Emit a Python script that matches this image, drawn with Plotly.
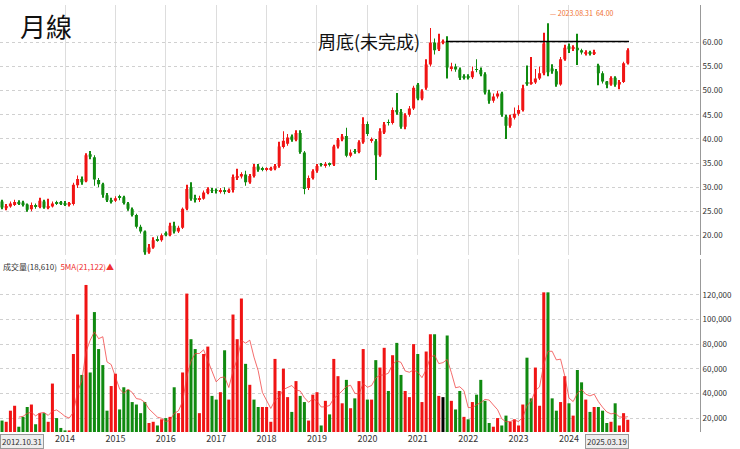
import plotly.graph_objects as go

opens = [27.0,25.6,26.0,26.5,26.9,26.8,26.4,25.4,26.2,25.9,27.0,25.7,26.0,26.9,26.8,26.7,26.3,26.5,30.4,31.7,31.2,36.8,36.2,31.5,30.6,28.3,27.3,27.2,28.0,27.9,
26.6,25.4,24.2,21.8,20.8,16.5,17.5,19.2,19.0,20.3,20.1,22.0,20.8,21.6,25.5,30.0,27.6,27.4,27.6,28.8,
29.4,29.3,29.1,29.3,29.1,29.4,31.9,32.2,32.6,31.0,32.3,34.3,33.8,33.6,33.7,33.8,34.4,38.3,39.0,40.5,
39.8,41.2,37.2,29.8,31.9,33.4,34.7,34.4,34.8,34.7,38.4,39.9,40.6,36.5,37.4,37.3,39.3,43.1,39.6,39.5,
36.6,41.3,43.4,43.3,46.0,45.6,42.5,45.0,46.3,51.2,48.4,50.6,55.4,60.0,58.6,60.0,60.2,54.6,55.0,54.4,
52.9,52.9,52.8,54.4,54.3,53.4,49.6,47.9,48.8,49.4,44.6,42.7,44.4,45.2,46.0,51.6,51.5,51.7,52.5,53.6,
60.2,54.6,54.0,51.3,56.5,59.2,58.7,58.9,58.4,57.7,57.9,57.7,55.2,53.6,51.9,51.3,52.7,51.3,51.8,55.7]
closes = [25.8,26.1,26.6,26.9,26.7,26.4,25.3,26.3,25.9,27.2,25.8,26.0,26.6,26.7,26.6,26.5,26.6,30.5,31.7,31.0,36.6,36.3,31.6,30.6,28.4,27.3,27.0,27.7,27.9,26.7,
25.5,24.2,21.8,20.8,16.5,17.5,19.0,19.0,20.0,20.2,22.0,20.8,21.6,25.5,29.6,27.6,27.4,27.7,28.9,29.6,
29.2,29.2,29.4,29.1,29.4,32.1,32.3,32.7,31.0,32.3,34.2,33.6,33.7,33.8,33.9,34.4,38.4,39.6,40.3,39.8,
41.2,37.3,29.6,31.9,33.3,34.4,34.6,34.8,34.7,38.4,39.8,40.5,36.5,37.2,37.3,39.3,43.1,41.0,39.8,36.6,
41.6,43.0,43.3,46.0,45.5,42.5,44.9,46.3,50.6,48.4,49.9,55.4,60.0,58.4,60.0,60.1,54.8,55.0,54.4,52.7,
52.8,52.7,54.0,54.3,53.4,49.6,47.9,48.8,49.4,45.0,42.7,44.4,45.2,46.0,50.5,51.5,51.7,52.5,53.6,59.8,
53.8,54.0,51.3,56.5,58.9,58.6,58.9,58.4,57.9,57.9,57.7,58.0,53.6,51.9,51.2,52.6,51.2,51.8,55.7,58.4]
highs = [27.4,26.5,27.0,27.4,27.3,27.2,26.6,26.8,26.6,27.8,27.4,27.6,27.0,27.2,27.1,27.1,26.9,30.9,32.4,32.2,37.0,37.5,36.6,31.9,30.9,28.8,27.8,28.1,28.4,28.2,
26.9,25.8,24.5,22.2,21.0,18.2,19.6,19.8,20.4,20.8,22.6,22.8,22.0,25.8,30.5,31.0,28.4,28.2,29.3,30.0,
29.8,29.7,29.8,30.0,29.7,32.6,33.8,33.1,33.4,32.7,34.8,34.8,34.2,34.1,34.2,34.8,39.4,41.6,41.0,40.9,
41.8,41.8,37.5,32.4,33.7,34.8,35.0,35.2,35.1,38.8,40.2,41.0,42.3,37.8,37.9,39.7,44.5,43.6,40.3,40.0,
42.2,43.5,44.0,46.5,49.5,46.2,45.3,46.8,51.0,51.6,50.3,56.5,63.0,60.8,61.8,60.6,61.3,55.8,55.6,54.8,
53.4,53.4,55.0,56.5,54.8,53.8,50.2,49.4,50.0,49.8,45.0,45.0,46.5,47.0,51.2,55.2,57.0,54.5,55.0,62.0,
64.0,55.5,54.5,57.0,59.5,59.8,59.4,61.8,58.7,58.4,58.3,58.5,55.6,54.0,52.0,53.0,53.0,52.2,56.0,58.8]
lows = [25.4,25.2,25.7,26.1,26.3,26.0,24.9,25.0,25.5,25.6,25.5,25.4,25.8,26.3,26.3,26.1,26.0,26.2,29.8,30.5,31.0,35.8,30.3,30.0,27.8,26.9,26.6,26.9,27.3,26.4,
25.1,23.9,21.4,20.4,15.85,16.2,17.2,18.7,18.7,19.8,19.8,20.4,20.5,21.3,25.2,27.2,26.8,26.9,27.4,28.5,
28.8,28.7,28.7,28.5,28.8,28.9,31.5,31.8,30.3,30.7,32.0,33.2,33.3,33.3,33.4,33.5,34.0,38.0,38.6,39.4,
39.5,36.9,28.5,29.4,31.6,33.0,34.3,34.0,34.3,34.4,38.0,39.5,36.2,36.2,36.9,37.0,39.0,40.6,39.2,31.5,
36.3,41.0,42.8,43.0,45.0,42.1,42.0,44.6,46.0,48.0,48.0,50.2,55.0,57.5,58.2,59.6,52.5,54.0,53.9,52.2,
52.3,52.3,52.4,53.8,53.0,49.2,47.3,47.5,48.4,44.6,40.0,42.3,44.0,44.8,45.7,51.0,51.2,51.4,52.2,53.2,
53.0,53.5,50.8,51.0,56.2,57.8,58.2,55.3,57.5,57.3,57.3,57.4,51.1,51.5,50.5,51.0,50.8,50.3,51.6,55.4]
volumes_k = [18,17,26,30,13,21,29,31,15,24,24,17,48,20,12,10,10,72,104,55,128,57,106,76,63,26,46,56,27,45,
43,33,31,24,33,16,17,14,19,20,21,45,24,57,121,84,76,24,72,78,38,35,41,75,35,104,84,117,64,47,
35,29,29,29,17,68,42,60,37,25,50,38,33,18,39,41,
14,34,23,68,54,32,51,28,36,50,76,35,35,67,61,77,42,71,81,55,42,37,80,72,33,74,88,88,38,37,
87,34,27,42,21,19,33,39,51,34,16,13,20,14,22,17,19,14,31,69,36,61,30,122,122,36,26,33,54,32,
22,59,49,35,25,29,29,26,16,17,32,14,24,18.61]
vol_dir = list("grrrgggrgr" "grrgggrrrg" "rgggggrrgg" "gggggrrgrg" "rgrrrggrrr" "ggrgrrrrgr" "ggrrrrrrrg" "rggrrr"
               "grgrrrgrgr" "rgrgrrgrgg" "rrrgrrrgrk" "grggrgrggg" "grrggrrrrg" "grrrgggrrg" "rggrgrgggr" "grrr")
years = ["2014","2015","2016","2017","2018","2019","2020","2021","2022","2023","2024"]
year_idx = [15,27,39,51,63,75,87,99,111,123,135]
first_date, last_date = "2012.10.31", "2025.03.19"
neck_level, neck_start, neck_end = 60.2, 106, 149
ma_period = 5

n = len(closes)
idx = list(range(n))
RED, GREEN = "#f01414", "#108a10"
cmap = {"r": RED, "g": GREEN, "k": "#000000"}
ccol = [RED if c >= o else GREEN for o, c in zip(opens, closes)]
vols = [v * 1000 for v in volumes_k]
ma = [None if i < ma_period - 1 else sum(vols[i-ma_period+1:i+1]) / ma_period for i in range(n)]

fig = go.Figure()
fig.add_bar(x=idx, base=lows, y=[h - l for h, l in zip(highs, lows)], width=0.18,
            marker=dict(color=ccol, line=dict(width=0)), xaxis="x", yaxis="y", hoverinfo="skip")
fig.add_bar(x=idx, base=[min(o, c) for o, c in zip(opens, closes)],
            y=[max(abs(c - o), 0.15) for o, c in zip(opens, closes)], width=0.72,
            marker=dict(color=ccol, line=dict(width=0)), xaxis="x", yaxis="y")
fig.add_bar(x=idx, y=vols, width=0.72, marker=dict(color=[cmap[d] for d in vol_dir], line=dict(width=0)),
            xaxis="x2", yaxis="y2")
fig.add_scatter(x=idx, y=ma, mode="lines", line=dict(color="rgba(240,60,60,0.75)", width=1),
                xaxis="x2", yaxis="y2")

xr = [-0.48, 166.2]
common_x = dict(range=xr, tickvals=year_idx, showgrid=True, gridcolor="#dddddd", gridwidth=1,
                zeroline=False, showline=False, automargin=False)
fig.update_layout(
    width=740, height=449, margin=dict(l=0, r=40, t=5, b=17),
    paper_bgcolor="white", plot_bgcolor="white", showlegend=False, barmode="overlay",
    font=dict(family="Noto Sans CJK TC, Noto Sans", size=9, color="#333"),
    xaxis=dict(**common_x, domain=[0, 1], anchor="y", showticklabels=False),
    xaxis2=dict(**common_x, domain=[0, 1], anchor="y2", ticktext=years, ticks="",
                tickfont=dict(size=9, color="#333")),
    yaxis=dict(domain=[0.415, 1], range=[15.97, 67.76], side="right", tickvals=[20,25,30,35,40,45,50,55,60],
               tickformat=".2f", gridcolor="#d0d0d0", griddash="dot", zeroline=False, automargin=False,
               showline=True, linecolor="#999", mirror=True, tickfont=dict(size=8)),
    yaxis2=dict(domain=[0, 0.405], range=[8710, 149000], side="right",
                tickvals=[20000,40000,60000,80000,100000,120000], tickformat=",d", automargin=False,
                gridcolor="#d0d0d0", griddash="dot", zeroline=False,
                showline=True, linecolor="#999", mirror=True, tickfont=dict(size=8)),
)
fig.add_shape(type="line", xref="x", yref="y", x0=neck_start - 0.3, x1=neck_end + 0.3,
              y0=neck_level, y1=neck_level, line=dict(color="black", width=1.5))
fig.add_annotation(xref="paper", yref="paper", x=0.025, y=1.0, xanchor="left", yanchor="top",
                   text="月線", showarrow=False, font=dict(size=26, color="#111"))
fig.add_annotation(xref="x", yref="y", x=neck_start - 6, y=neck_level, xanchor="right", yanchor="middle",
                   text="周底(未完成)", showarrow=False, font=dict(size=18, color="#111"))
hi_i = highs.index(max(highs))
lo_i = lows.index(min(lows))
fig.add_annotation(xref="x", yref="y", x=hi_i, y=max(highs), xanchor="left", yanchor="bottom", yshift=3,
                   text=f"— 2023.08.31  {max(highs):.2f}", showarrow=False,
                   font=dict(size=7, color="#f07030"))
fig.add_annotation(xref="x", yref="y", x=lo_i, y=min(lows), xanchor="left", yanchor="top", yshift=-1,
                   text=f"└ 2015.08.31  {min(lows):.2f}", showarrow=False,
                   font=dict(size=7, color="#40b040"))
fig.add_annotation(xref="paper", yref="paper", x=0.002, y=0.405, xanchor="left", yanchor="top",
                   text=f"成交量({vols[-1]:,.0f})  <span style='color:#f03030'>5MA({ma[-1]:,.0f})▲</span>",
                   showarrow=False, font=dict(size=8, color="#333"))
for xi, txt, anc in [(-0.4, first_date, "left"), (n - 1 + 0.4, last_date, "right")]:
    fig.add_annotation(xref="x2", yref="paper", x=xi, y=-0.022, xanchor=anc, yanchor="middle",
                       text=txt, showarrow=False, bgcolor="#eeeeee", bordercolor="#999", borderwidth=1,
                       borderpad=1, font=dict(size=8, color="#333"))
fig.write_html("out.html", config={"displayModeBar": False},
               post_script="document.body.style.margin='0';")
